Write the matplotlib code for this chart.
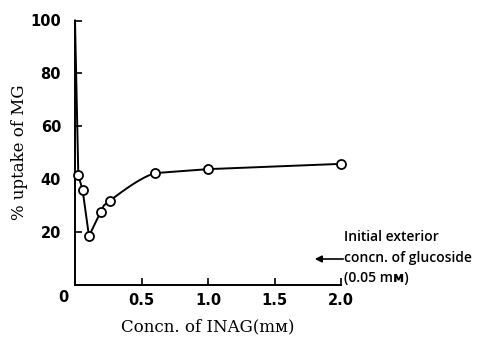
import numpy as np
import matplotlib
matplotlib.use("Agg")
import matplotlib.pyplot as plt

# data
conc_start = [0.0]
uptake_start = [100.0]
conc = [0.025, 0.057, 0.105, 0.195, 0.26, 0.6, 1.0, 2.0]
uptake = [41.4, 36.0, 18.5, 27.6, 31.8, 42.3, 43.8, 45.8]
xticks = [0.5, 1.0, 1.5, 2.0]
xtick_labels = ["0.5", "1.0", "1.5", "2.0"]
yticks = [20, 40, 60, 80, 100]

fig = plt.figure(figsize=(4.78, 3.41), dpi=100)
ax = fig.add_axes([75/478, 56/341, 266/478, 264.5/341])
ax.set_xlim(0, 2.0)
ax.set_ylim(0, 100)

LW = 1.4
# straight segments for the steep part
ax.plot(conc_start + conc[:3], uptake_start + uptake[:3], color="black", lw=LW, clip_on=False)

# smooth curve (Catmull-Rom through the data points) from the minimum to 0.6
P = np.column_stack([conc[2:7], uptake[2:7]])
Pext = np.vstack([P[0] - (P[1] - P[0]), P])
cx, cy = [], []
for i in range(1, 4):
    p0, p1, p2, p3 = Pext[i-1], Pext[i], Pext[i+1], Pext[i+2]
    t = np.linspace(0, 1, 40)[:, None]
    seg = 0.5 * ((2*p1) + (-p0 + p2)*t + (2*p0 - 5*p1 + 4*p2 - p3)*t**2 + (-p0 + 3*p1 - 3*p2 + p3)*t**3)
    cx.extend(seg[:, 0]); cy.extend(seg[:, 1])
ax.plot(cx, cy, color="black", lw=LW, clip_on=False)
# straight on the plateau
ax.plot(conc[5:], uptake[5:], color="black", lw=LW, clip_on=False)

ax.plot(conc, uptake, "o", ms=6.5, mfc="white", mec="black", mew=1.3, clip_on=False, zorder=5)

for s in ["top", "right"]:
    ax.spines[s].set_visible(False)
for s in ["left", "bottom"]:
    ax.spines[s].set_linewidth(1.4)

ax.set_xticks(xticks)
ax.set_xticklabels(xtick_labels)
ax.set_yticks(yticks)
ax.tick_params(direction="in", length=5, width=1.2, labelsize=10.5)
for lab in ax.get_xticklabels() + ax.get_yticklabels():
    lab.set_fontweight("bold")
ax.tick_params(axis="x", pad=6)
ax.tick_params(axis="y", pad=10)

# corner zero label
fig.text(63/478, 1 - 297/341, "0", fontsize=10.5, fontweight="bold", ha="center", va="center")

ax.set_ylabel("% uptake of MG", family="DejaVu Serif", fontsize=12, labelpad=2)
ax.set_xlabel("Concn. of INAG(mᴍ)", family=["DejaVu Serif", "DejaVu Sans"], fontsize=12, labelpad=7)

# annotation
kw = dict(fontsize=10, family=["Open Sans", "DejaVu Sans"], fontweight="semibold", va="center", ha="left")
fig.text(344/478, 1 - 237/341, "Initial exterior", **kw)
fig.text(344/478, 1 - 258/341, "concn. of glucoside", **kw)
fig.text(344/478, 1 - 278/341, "(0.05 mᴍ)", **kw)
ax.annotate("", xy=(312/478, 1 - 259/341), xytext=(346/478, 1 - 259/341),
            xycoords="figure fraction", textcoords="figure fraction",
            arrowprops=dict(arrowstyle="-|>", color="black", lw=1.2, mutation_scale=10))

fig.savefig("out.png", dpi=100)
